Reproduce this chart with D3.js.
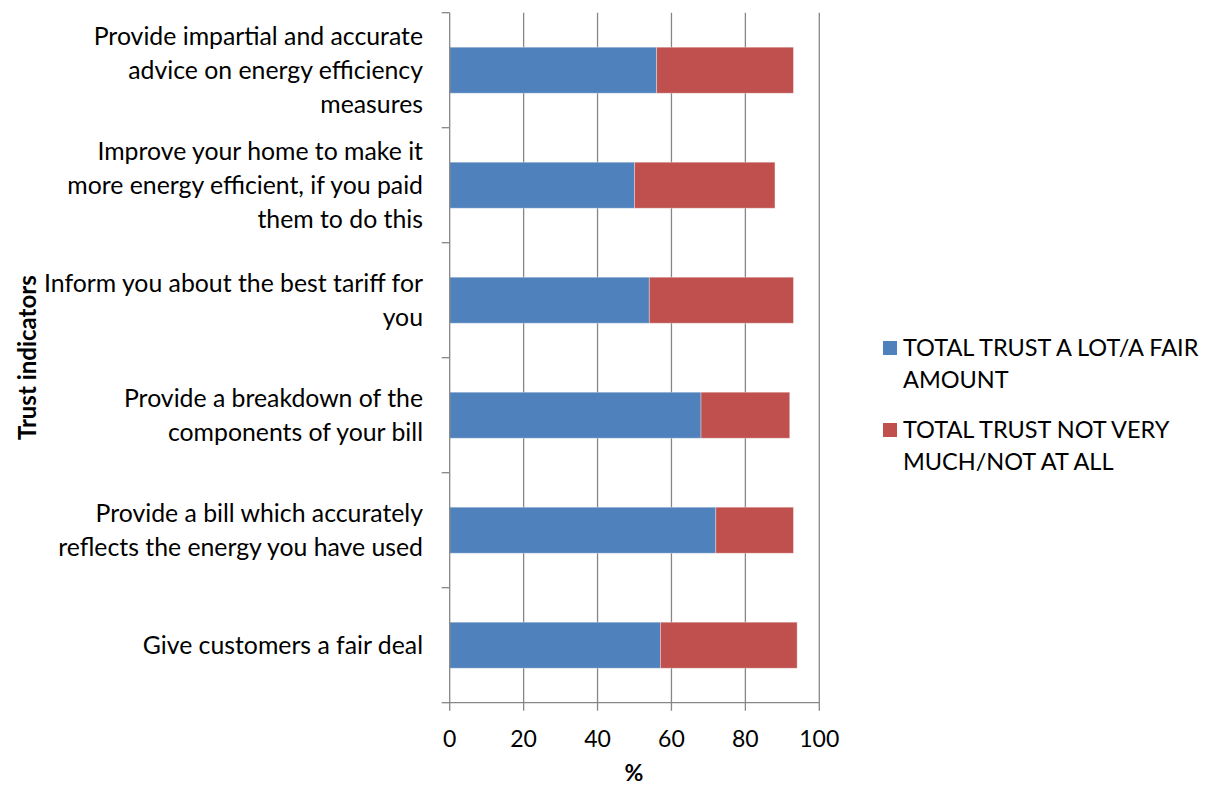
<!DOCTYPE html>
<html>
<head>
<meta charset="utf-8">
<script src="https://cdn.jsdelivr.net/npm/d3@7"></script>
<style>
  html, body { margin: 0; padding: 0; background: #ffffff; }
  svg { display: block; }
  text { font-family: Lato, "Open Sans", sans-serif; fill: #000; }
</style>
</head>
<body>
<svg id="chart" width="1211" height="787"></svg>
<script>
// Survey statements (line breaks mark where each label wraps)
const categories = [
  "Provide impartial and accurate\nadvice on energy efficiency\nmeasures",
  "Improve your home to make it\nmore energy efficient, if you paid\nthem to do this",
  "Inform you about the best tariff for\nyou",
  "Provide a breakdown of the\ncomponents of your bill",
  "Provide a bill which accurately\nreflects the energy you have used",
  "Give customers a fair deal"
];

// Percentages per statement
const trustLot = [56, 50, 54, 68, 72, 57];
const trustNot = [37, 38, 39, 24, 21, 37];

const seriesNames = [
  "TOTAL TRUST A LOT/A FAIR\nAMOUNT",
  "TOTAL TRUST NOT VERY\nMUCH/NOT AT ALL"
];
const seriesColors = ["#4F81BD", "#C0504D"];

const xTicks = [0, 20, 40, 60, 80, 100];
const xTitle = "%";
const yTitle = "Trust indicators";

const svg = d3.select("#chart");

const plot = { left: 449.7, right: 819.3, top: 12.7, bottom: 702.7 };
const gridColor = "#868686";
const labelSize = 24.8;
const tickSize = 23;
const legendSize = 23.5;
const titleSize = 24;
const lineH = 34;

const x = d3.scaleLinear().domain([0, 100]).range([plot.left, plot.right]);
const y = d3.scaleBand()
  .domain(categories)
  .range([plot.top, plot.bottom])
  .paddingInner(0.6)
  .paddingOuter(0.3);
const yEdges = d3.scaleLinear().domain([0, categories.length]).range([plot.top, plot.bottom]);

// Vertical gridlines (including the 100 line on the right)
svg.append("g")
  .selectAll("line")
  .data(xTicks.filter(d => d > 0))
  .join("line")
  .attr("x1", d => x(d)).attr("x2", d => x(d))
  .attr("y1", plot.top).attr("y2", plot.bottom)
  .attr("stroke", gridColor).attr("stroke-width", 1.3);

// Stacked bars
const stacked = d3.stack().keys([0, 1])(categories.map((c, i) => ({ cat: c, 0: trustLot[i], 1: trustNot[i] })));
svg.append("g")
  .selectAll("g")
  .data(stacked)
  .join("g")
  .attr("fill", (d, i) => seriesColors[i])
  .selectAll("rect")
  .data(d => d)
  .join("rect")
  .attr("x", d => x(d[0]))
  .attr("width", d => x(d[1]) - x(d[0]))
  .attr("y", d => y(d.data.cat))
  .attr("height", y.bandwidth())
  .attr("stroke", "#f2f2f2")
  .attr("stroke-opacity", 0.5)
  .attr("stroke-width", 0.8);

// Category axis line and ticks at the band edges
const yAxisG = svg.append("g");
yAxisG.append("line")
  .attr("x1", plot.left).attr("x2", plot.left)
  .attr("y1", plot.top).attr("y2", plot.bottom)
  .attr("stroke", gridColor).attr("stroke-width", 1.3);
yAxisG.selectAll("line.tick")
  .data(d3.range(categories.length + 1))
  .join("line")
  .attr("class", "tick")
  .attr("x1", plot.left - 8).attr("x2", plot.left)
  .attr("y1", d => yEdges(d)).attr("y2", d => yEdges(d))
  .attr("stroke", gridColor).attr("stroke-width", 1.3);

// Value axis
const xAxisG = svg.append("g");
xAxisG.append("line")
  .attr("x1", plot.left).attr("x2", plot.right)
  .attr("y1", plot.bottom).attr("y2", plot.bottom)
  .attr("stroke", gridColor).attr("stroke-width", 1.3);
xAxisG.selectAll("line.tick")
  .data(xTicks)
  .join("line")
  .attr("class", "tick")
  .attr("x1", d => x(d)).attr("x2", d => x(d))
  .attr("y1", plot.bottom).attr("y2", plot.bottom + 8)
  .attr("stroke", gridColor).attr("stroke-width", 1.3);
xAxisG.selectAll("text")
  .data(xTicks)
  .join("text")
  .attr("x", d => x(d))
  .attr("y", 747)
  .attr("text-anchor", "middle")
  .attr("font-size", tickSize)
  .text(d => d);

// Category labels, right aligned and centred on each band
const labels = svg.append("g")
  .selectAll("text")
  .data(categories)
  .join("text")
  .attr("text-anchor", "end")
  .attr("font-size", labelSize);
labels.each(function (d) {
  const lines = d.split("\n");
  const cy = y(d) + y.bandwidth() / 2;
  const first = cy + 9 - (lines.length - 1) * lineH / 2;
  d3.select(this).selectAll("tspan")
    .data(lines)
    .join("tspan")
    .attr("x", 423)
    .attr("y", (l, i) => first + i * lineH)
    .text(l => l);
});

// Axis titles
svg.append("text")
  .attr("x", 634).attr("y", 781)
  .attr("text-anchor", "middle")
  .attr("font-size", 23)
  .attr("font-weight", "bold")
  .text(xTitle);

svg.append("text")
  .attr("transform", `translate(36, ${(plot.top + plot.bottom) / 2}) rotate(-90)`)
  .attr("text-anchor", "middle")
  .attr("font-size", titleSize)
  .attr("font-weight", "bold")
  .text(yTitle);

// Legend
const legend = svg.append("g");
const legendRows = [341, 423];
seriesNames.forEach((name, i) => {
  legend.append("rect")
    .attr("x", 883).attr("y", legendRows[i])
    .attr("width", 14).attr("height", 14)
    .attr("fill", seriesColors[i]);
  const t = legend.append("text").attr("font-size", legendSize);
  t.selectAll("tspan")
    .data(name.split("\n"))
    .join("tspan")
    .attr("x", 903)
    .attr("y", (l, j) => legendRows[i] + 15 + j * 32)
    .text(l => l);
});
</script>
</body>
</html>
